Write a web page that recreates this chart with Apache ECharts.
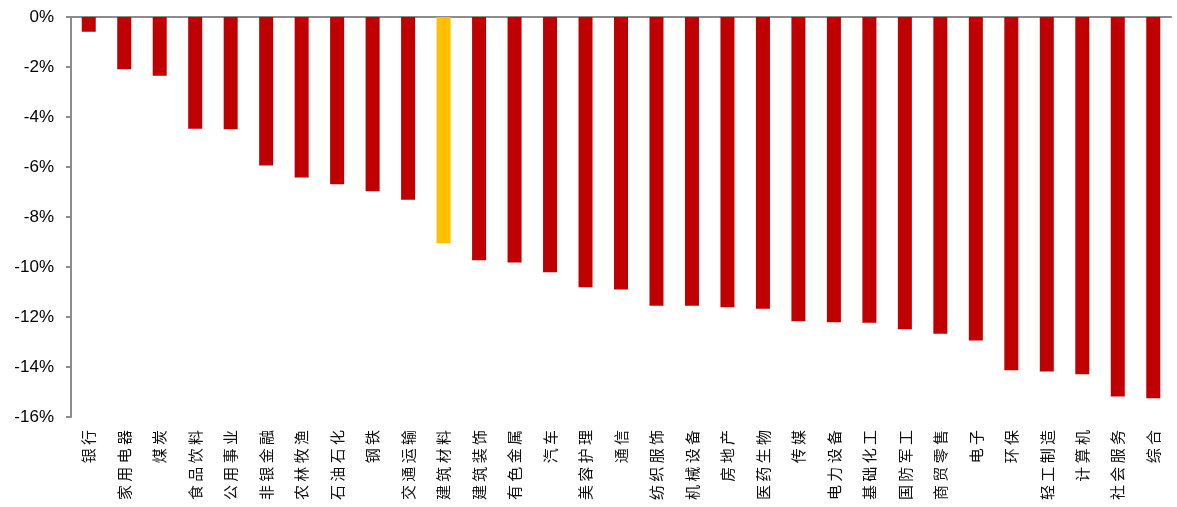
<!DOCTYPE html>
<html>
<head>
<meta charset="utf-8">
<script src="https://cdn.jsdelivr.net/npm/echarts@6/dist/echarts.min.js"></script>
<style>
  html, body { margin: 0; padding: 0; background: #fff; }
  #chart { width: 1177px; height: 507px; }
</style>
</head>
<body>
<div id="chart"></div>
<script>
const industries = ['银行', '家用电器', '煤炭', '食品饮料', '公用事业', '非银金融', '农林牧渔', '石油石化', '钢铁', '交通运输',
  '建筑材料', '建筑装饰', '有色金属', '汽车', '美容护理', '通信', '纺织服饰', '机械设备', '房地产', '医药生物',
  '传媒', '电力设备', '基础化工', '国防军工', '商贸零售', '电子', '环保', '轻工制造', '计算机', '社会服务', '综合']
const changes = [-0.59, -2.09, -2.35, -4.47, -4.49, -5.94, -6.42, -6.69, -6.97, -7.31,
  -9.05, -9.73, -9.82, -10.21, -10.81, -10.9, -11.55, -11.55, -11.61, -11.67,
  -12.17, -12.21, -12.23, -12.49, -12.67, -12.94, -14.13, -14.18, -14.29, -15.18, -15.25]
const highlight = '建筑材料'
const yTicks = { min: -16, max: 0, interval: 2 }

const axisGray = '#8c8c8c'
const chart = echarts.init(document.getElementById('chart'))

chart.setOption({
  animation: false,
  grid: { left: 71, right: 6, top: 17, bottom: 90 },
  xAxis: [
    {
      type: 'category',
      data: industries,
      position: 'top',
      axisLine: { onZero: false, lineStyle: { color: axisGray, width: 2 } },
      axisTick: { inside: true, length: 4, lineStyle: { color: axisGray, width: 2 } },
      axisLabel: { show: false },
    },
    {
      type: 'category',
      data: industries,
      position: 'bottom',
      axisLine: { show: false },
      axisTick: { show: false },
      axisLabel: {
        rotate: 90,
        interval: 0,
        margin: 13,
        color: '#111',
        fontSize: 15,
        fontFamily: 'Noto Sans CJK SC',
        formatter: (v) => v.split('').join(' '),
      },
    },
  ],
  yAxis: {
    type: 'value',
    min: yTicks.min,
    max: yTicks.max,
    interval: yTicks.interval,
    axisLine: { show: true, lineStyle: { color: axisGray, width: 2 } },
    axisTick: { show: true, length: 5, lineStyle: { color: axisGray, width: 2 } },
    splitLine: { show: false },
    axisLabel: {
      margin: 17,
      color: '#000',
      fontSize: 17,
      fontFamily: 'Liberation Sans',
      formatter: (v) => v + '%',
    },
  },
  series: [
    {
      type: 'bar',
      xAxisIndex: 0,
      barWidth: 14,
      data: changes.map((v, i) => ({
        value: v,
        itemStyle: { color: industries[i] === highlight ? '#FFC000' : '#C00000' },
      })),
    },
  ],
})
</script>
</body>
</html>
